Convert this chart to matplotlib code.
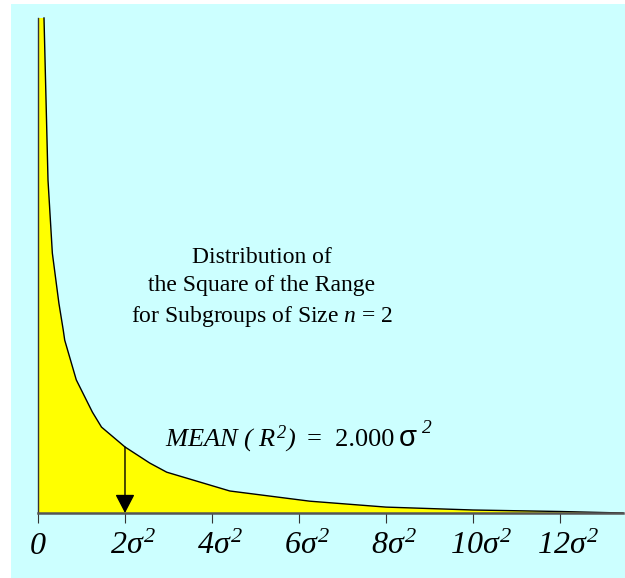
import numpy as np
import matplotlib
matplotlib.use("Agg")
import matplotlib.pyplot as plt
import matplotlib.transforms as mtrans
from matplotlib.patches import Rectangle

plt.rcParams['mathtext.fontset'] = 'custom'
plt.rcParams['mathtext.rm'] = 'Liberation Serif:italic'
plt.rcParams['mathtext.it'] = 'Liberation Serif:italic'
plt.rcParams['mathtext.default'] = 'it'

# Density of R^2 (in units of sigma^2)
x_vals = [0.138, 0.23, 0.33, 0.48, 0.58, 0.614, 0.88, 1.25, 1.46, 2.0,
          2.57, 2.96, 4.41, 6.25, 8.0, 10.0, 12.0, 13.45]
density = [0.922, 0.620, 0.484, 0.391, 0.341, 0.322, 0.248, 0.188, 0.160, 0.123,
           0.093, 0.076, 0.041, 0.022, 0.011, 0.0056, 0.0028, 0.0]
tick_pos = [0, 2, 4, 6, 8, 10, 12]
tick_labels = ['$0$', r'$2\sigma^{2}$', r'$4\sigma^{2}$', r'$6\sigma^{2}$',
               r'$8\sigma^{2}$', r'$10\sigma^{2}$', r'$12\sigma^{2}$']
mean_value = 2.0

W, H = 625, 578
fig = plt.figure(figsize=(W / 100, H / 100), dpi=100, facecolor='white')
fig.patches.append(Rectangle((11 / W, 0), 1 - 11 / W, 1 - 4 / H, transform=fig.transFigure,
                             facecolor='#CCFFFF', edgecolor='none', zorder=-10))

ax = fig.add_axes([38 / W, 65 / H, 585 / W, 495 / H])
ax.set_zorder(1)
ax.set_facecolor('none')
x = np.array(x_vals)
y = np.array(density)
ax.set_xlim(0, x[-1])
ax.set_ylim(0, y[0])

ax.fill_between(np.r_[0, x], np.r_[y[0], y], 0, facecolor='#FFFF00', edgecolor='none', zorder=1)
ax.plot(x, y, color='black', lw=1.0, zorder=2, clip_on=False)

for s in ['top', 'right']:
    ax.spines[s].set_visible(False)
ax.spines['left'].set_bounds(0, y[0])
ax.spines['left'].set_color('#333333')
ax.spines['left'].set_linewidth(1.0)
ax.spines['bottom'].set_color('#555555')
ax.spines['bottom'].set_linewidth(1.8)
ax.spines['bottom'].set_zorder(3)
ax.set_yticks([])
ax.set_xticks(tick_pos)
ax.set_xticklabels(tick_labels, fontsize=23)
ax.tick_params(axis='x', direction='out', length=7, width=0.8, color='#333333', pad=5)
# shift labels so the digits sit centred on the tick, with the exponent to the right
for lbl in ax.get_xticklabels()[1:]:
    lbl.set_transform(lbl.get_transform() + mtrans.ScaledTranslation(6 / 72, 0, fig.dpi_scale_trans))

# arrow at the mean
y_mean = np.interp(mean_value, x, y)
ax.annotate('', xy=(mean_value, 0), xytext=(mean_value, y_mean),
            arrowprops=dict(arrowstyle='-|>,head_length=1.15,head_width=0.6', color='black',
                            lw=1.0, shrinkA=0, shrinkB=0), zorder=4)

fig.text(262 / W, 1 - 288 / H,
         'Distribution of\nthe Square of the Range\nfor Subgroups of Size $n$ = 2',
         ha='center', va='center', multialignment='center', family='Liberation Serif',
         fontsize=17, linespacing=1.47)

fig.text(165 / W, 1 - 446 / H, r'$MEAN\ (\ R^{2})$', fontsize=19, ha='left', va='baseline')
fig.text(307 / W, 1 - 446 / H, '=  2.000', fontsize=19, family='Liberation Serif',
         ha='left', va='baseline')
fig.text(399 / W, 1 - 446 / H, 'σ', fontsize=21, family='Liberation Sans',
         ha='left', va='baseline')
fig.text(421 / W, 1 - 433 / H, '$2$', fontsize=14, ha='left', va='baseline')

fig.savefig('out.png', dpi=100, facecolor='white')
